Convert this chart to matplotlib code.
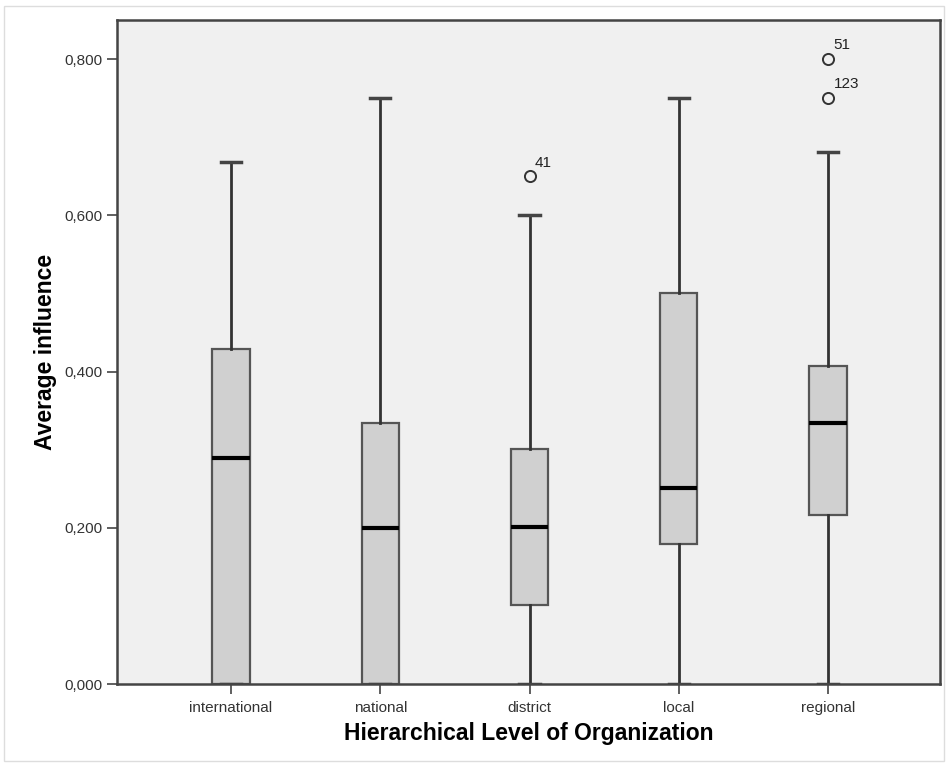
import matplotlib
matplotlib.use("Agg")
import matplotlib.pyplot as plt
from matplotlib.ticker import FuncFormatter
from matplotlib.patches import Rectangle

# values
categories = ['international', 'national', 'district', 'local', 'regional']
q1 = [0.0, 0.0, 0.101, 0.179, 0.216]
medians = [0.289, 0.200, 0.201, 0.251, 0.334]
q3 = [0.429, 0.334, 0.301, 0.500, 0.407]
whisker_low = [0.0, 0.0, 0.0, 0.0, 0.0]
whisker_high = [0.668, 0.750, 0.600, 0.750, 0.681]
outliers = [[], [], [0.650], [], [0.800, 0.750]]
outlier_ids = [[], [], ['41'], [], ['51', '123']]

plt.rcParams['font.family'] = ['Liberation Sans Narrow', 'Liberation Sans', 'DejaVu Sans']

fig = plt.figure(figsize=(9.48, 7.64), dpi=100)
fig.patch.set_facecolor('white')
# thin outer border of the exported picture
fig.patches.append(Rectangle((0.004, 0.004), 0.992, 0.988, transform=fig.transFigure,
                             fill=False, edgecolor='#dddddd', lw=1))

ax = fig.add_axes([0.1234, 0.1047, 0.8682, 0.8691])
ax.set_facecolor('#f0f0f0')

stats = []
for i, name in enumerate(categories):
    stats.append({'label': name, 'med': medians[i], 'q1': q1[i], 'q3': q3[i],
                  'whislo': whisker_low[i], 'whishi': whisker_high[i],
                  'fliers': outliers[i]})

positions = list(range(1, len(categories) + 1))
ax.bxp(stats, positions=positions, widths=0.25, capwidths=0.135,
       patch_artist=True, showfliers=True,
       boxprops=dict(facecolor='#d0d0d0', edgecolor='#555555', lw=1.6),
       medianprops=dict(color='black', lw=3),
       whiskerprops=dict(color='#333333', lw=2),
       capprops=dict(color='#444444', lw=2.5),
       flierprops=dict(marker='o', markersize=8, markerfacecolor='none',
                       markeredgecolor='#333333', markeredgewidth=1.4))

for i, ids in enumerate(outlier_ids):
    for val, lab in zip(outliers[i], ids):
        ax.annotate(lab, (positions[i], val), xytext=(4, 7), textcoords='offset points',
                    fontsize=11, color='#222222', family=['Liberation Sans', 'DejaVu Sans'])

ax.set_xlim(0.236, 5.75)
ax.set_ylim(0.0, 0.85)
ax.set_yticks([0.0, 0.2, 0.4, 0.6, 0.8])
ax.yaxis.set_major_formatter(FuncFormatter(lambda v, p: f'{v:.3f}'.replace('.', ',')))
ax.set_xticks(positions)
ax.set_xticklabels(categories)
ax.tick_params(axis='both', direction='out', length=7, width=1.2, color='#444444',
               labelsize=11, labelcolor='#333333')
ax.tick_params(axis='x', pad=5)

for sp in ax.spines.values():
    sp.set_color('#444444')
    sp.set_linewidth(1.8)

ax.set_xlabel('Hierarchical Level of Organization', fontsize=16.5, fontweight='bold',
              family=['Liberation Sans', 'DejaVu Sans'], labelpad=5)
ax.set_ylabel('Average influence', fontsize=16.5, fontweight='bold',
              family=['Liberation Sans', 'DejaVu Sans'], labelpad=5)

fig.savefig('out.png', dpi=100)
